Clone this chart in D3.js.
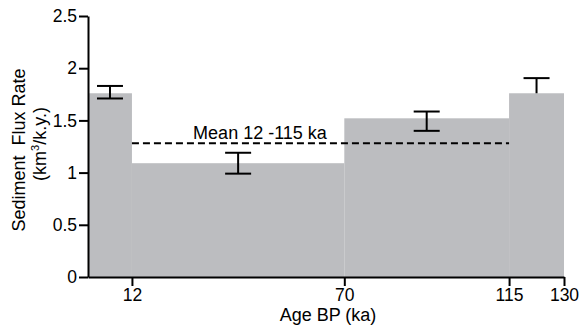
<!DOCTYPE html>
<html>
<head>
<meta charset="utf-8">
<script src="https://cdn.jsdelivr.net/npm/d3@7"></script>
<style>
  body { margin: 0; background: #fff; }
  text { font-family: Arial, "Liberation Sans", Helvetica, sans-serif; }
</style>
</head>
<body>
<div id="vis"></div>
<script>
// sediment flux rate per age interval (ka)
var binStart = [0, 12, 70, 115];
var binEnd = [12, 70, 115, 130];
var fluxRate = [1.76, 1.09, 1.52, 1.76];

// error bars: centre of interval, low, high (last one only shows above bar)
var errX = [6, 41, 92.5, 122.5];
var errLo = [1.71, 0.99, 1.40, null];
var errHi = [1.83, 1.19, 1.585, 1.905];

var meanValue = 1.28;
var meanFrom = 12, meanTo = 115;

var xTicks = [12, 70, 115, 130];
var yTicks = [0, 0.5, 1, 1.5, 2, 2.5];

var width = 583,
    height = 329;

var svg = d3.select("#vis").append("svg")
    .attr("width", width)
    .attr("height", height);

var x = d3.scaleLinear().domain([0, 130]).range([88, 564]);
var y = d3.scaleLinear().domain([0, 2.5]).range([277, 16]);

var bars = binStart.map(function (d, i) {
  return { x0: d, x1: binEnd[i], v: fluxRate[i] };
});

svg.selectAll(".bar")
    .data(bars)
    .enter().append("rect")
    .attr("class", "bar")
    .attr("x", function (d) { return x(d.x0); })
    .attr("width", function (d) { return x(d.x1) - x(d.x0); })
    .attr("y", function (d) { return y(d.v); })
    .attr("height", function (d) { return y(0) - y(d.v); })
    .attr("fill", "#bcbdc0");

// mean line
svg.append("line")
    .attr("x1", x(meanFrom))
    .attr("x2", x(meanTo))
    .attr("y1", y(meanValue))
    .attr("y2", y(meanValue))
    .attr("stroke", "#000")
    .attr("stroke-width", 2)
    .attr("stroke-dasharray", "7,4");

svg.append("text")
    .attr("x", 260)
    .attr("y", y(meanValue) - 4)
    .attr("text-anchor", "middle")
    .style("font-size", "18px")
    .text("Mean 12 -115 ka");

// error bars
var errs = errX.map(function (d, i) {
  return { x: d, lo: errLo[i], hi: errHi[i], v: fluxRate[i] };
});
var capW = 13;

var eg = svg.selectAll(".err")
    .data(errs)
    .enter().append("g")
    .attr("class", "err")
    .attr("stroke", "#000")
    .attr("stroke-width", 2);

eg.append("line")
    .attr("x1", function (d) { return x(d.x); })
    .attr("x2", function (d) { return x(d.x); })
    .attr("y1", function (d) { return y(d.hi); })
    .attr("y2", function (d) { return y(d.lo == null ? d.v : d.lo); });

eg.append("line")
    .attr("x1", function (d) { return x(d.x) - capW; })
    .attr("x2", function (d) { return x(d.x) + capW; })
    .attr("y1", function (d) { return y(d.hi); })
    .attr("y2", function (d) { return y(d.hi); });

eg.filter(function (d) { return d.lo != null; }).append("line")
    .attr("x1", function (d) { return x(d.x) - capW; })
    .attr("x2", function (d) { return x(d.x) + capW; })
    .attr("y1", function (d) { return y(d.lo); })
    .attr("y2", function (d) { return y(d.lo); });

// axes
var xAxis = svg.append("g")
    .attr("transform", "translate(0," + y(0) + ")")
    .call(d3.axisBottom(x).tickValues(xTicks).tickSize(9).tickPadding(3).tickSizeOuter(0));

var yAxis = svg.append("g")
    .attr("transform", "translate(" + x(0) + ",0)")
    .call(d3.axisLeft(y).tickValues(yTicks).tickSize(9).tickPadding(2).tickSizeOuter(0)
      .tickFormat(function (d) { return d; }));

[xAxis, yAxis].forEach(function (a) {
  a.selectAll(".domain").attr("stroke-width", 2);
  a.selectAll(".tick line").attr("stroke-width", 2);
  a.selectAll("text")
      .style("font-size", "17.5px")
      .style("font-family", "Arial, 'Liberation Sans', sans-serif")
      .attr("fill", "#000");
});

svg.append("text")
    .attr("x", 328)
    .attr("y", 321)
    .attr("text-anchor", "middle")
    .style("font-size", "18px")
    .text("Age BP (ka)");

var yt = svg.append("text")
    .attr("transform", "translate(25,150) rotate(-90)")
    .attr("text-anchor", "middle")
    .style("font-size", "18px");
yt.append("tspan").attr("x", 0).attr("dy", 0).text("Sediment\u00a0\u00a0Flux Rate");

var yt2 = svg.append("text")
    .attr("transform", "translate(46,144) rotate(-90)")
    .attr("text-anchor", "middle")
    .style("font-size", "18px");
yt2.append("tspan").text("(km");
yt2.append("tspan").attr("dy", -7).style("font-size", "11px").text("3");
yt2.append("tspan").attr("dy", 7).text("/k.y.)");
</script>
</body>
</html>
